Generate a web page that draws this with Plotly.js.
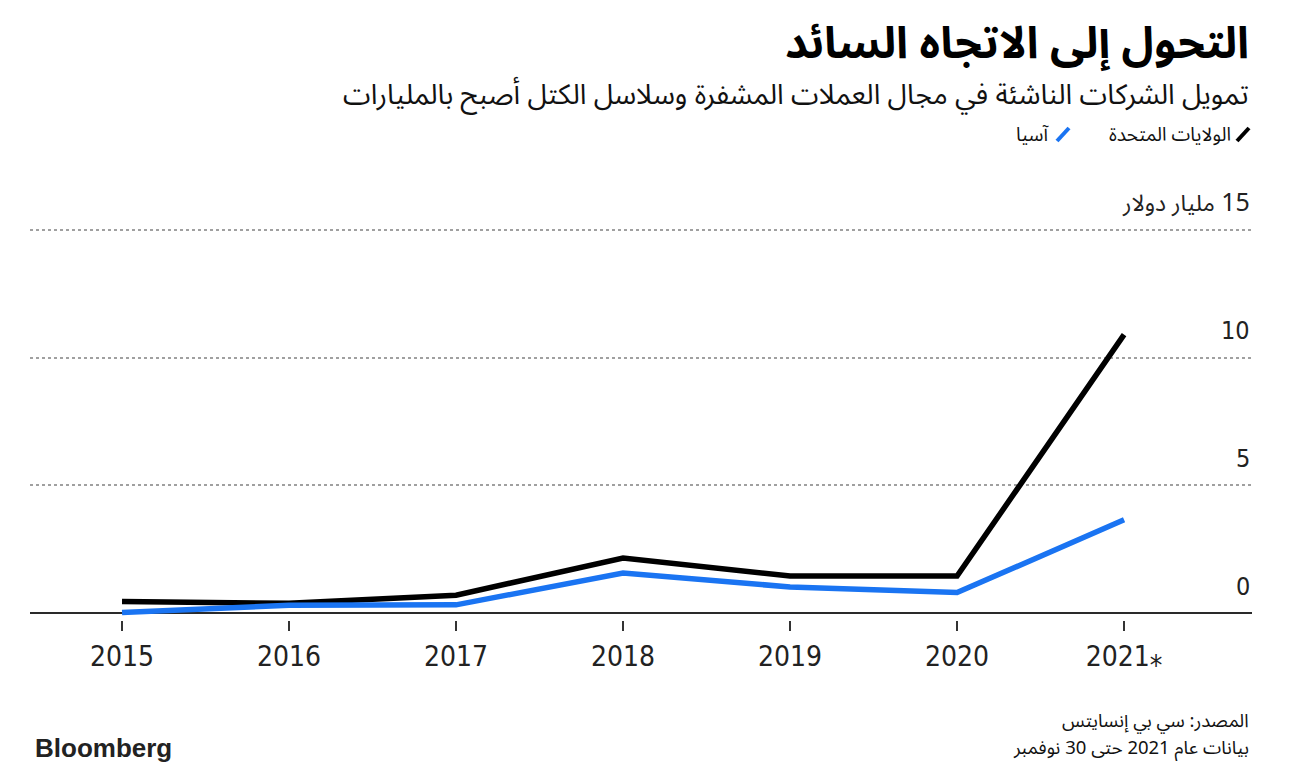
<!DOCTYPE html>
<html>
<head>
<meta charset="utf-8">
<script src="https://cdn.plot.ly/plotly-3.0.1.min.js"></script>
<style>
  html, body { margin: 0; padding: 0; background: #fff; }
  #chart { width: 1302px; height: 774px; }
</style>
</head>
<body>
<div id="chart"></div>
<script>
// ---- data ----
const years = [2015, 2016, 2017, 2018, 2019, 2020, 2021];
const yearLabels = ["2015", "2016", "2017", "2018", "2019", "2020", "2021⁎"];
const usValues = [0.45, 0.38, 0.70, 2.15, 1.45, 1.45, 10.9];
const asiaValues = [0.02, 0.30, 0.32, 1.57, 1.02, 0.80, 3.65];
const yTickValues = [0, 5, 10, 15];
const yTickLabels = ["0", "5", "10", "\u200F15 <span style=\"font-size:23px\">مليار دولار</span>"];
const seriesNames = ["الولايات المتحدة", "آسيا"];

const titleText = "التحول إلى الاتجاه السائد";
const subtitleText = "تمويل الشركات الناشئة في مجال العملات المشفرة وسلاسل الكتل أصبح بالمليارات";
const sourceText = "المصدر: سي بي إنسايتس";
const noteText = "\u202Bبيانات عام 2021 حتى 30 نوفمبر\u202C";

// ---- layout geometry ----
const W = 1302, H = 774;
const mL = 30, mR = 50, mT = 225, mB = 154;
const plotW = W - mL - mR, plotH = H - mT - mB;
const px = x => (x - mL) / plotW;
const py = y => (H - mB - y) / plotH;

const arFont = "Noto Sans Arabic, DejaVu Sans, sans-serif";
const numFont = "DejaVu Sans Condensed, DejaVu Sans, sans-serif";

const traces = [
  { x: years, y: usValues, name: seriesNames[0], type: "scatter", mode: "lines",
    line: { color: "#000000", width: 5.5, shape: "linear" }, hoverinfo: "skip" },
  { x: years, y: asiaValues, name: seriesNames[1], type: "scatter", mode: "lines",
    line: { color: "#1a74f2", width: 5.5, shape: "linear" }, hoverinfo: "skip" }
];

const annotations = [];
// y tick labels (above gridlines, right aligned)
yTickValues.forEach((v, i) => {
  annotations.push({
    xref: "paper", yref: "y", x: 1, y: v, xanchor: "right", yanchor: "middle",
    yshift: 27, showarrow: false, text: yTickLabels[i],
    font: { family: i === 3 ? arFont : numFont, size: 25, color: "#222" }
  });
});
// title, subtitle, legend texts, footer
annotations.push(
  { xref: "paper", yref: "paper", x: px(1251), y: py(44), xanchor: "right", yanchor: "middle",
    height: 60, valign: "middle",
    showarrow: false, text: "<b>" + titleText + "</b>", font: { family: arFont, size: 44, color: "#000" } },
  { xref: "paper", yref: "paper", x: px(1251), y: py(95), xanchor: "right", yanchor: "middle",
    height: 40, valign: "middle",
    showarrow: false, text: subtitleText, font: { family: arFont, size: 28, color: "#111" } },
  { xref: "paper", yref: "paper", x: px(1233), y: py(135), xanchor: "right", yanchor: "middle",
    height: 26, valign: "middle",
    showarrow: false, text: seriesNames[0], font: { family: arFont, size: 19, color: "#111" } },
  { xref: "paper", yref: "paper", x: px(1051), y: py(135), xanchor: "right", yanchor: "middle",
    height: 26, valign: "middle",
    showarrow: false, text: seriesNames[1], font: { family: arFont, size: 19, color: "#111" } },
  { xref: "paper", yref: "paper", x: px(1251), y: py(721), xanchor: "right", yanchor: "middle",
    height: 25, valign: "middle",
    showarrow: false, text: sourceText, font: { family: arFont, size: 18.5, color: "#111" } },
  { xref: "paper", yref: "paper", x: px(1251), y: py(748), xanchor: "right", yanchor: "middle",
    height: 25, valign: "middle",
    showarrow: false, text: noteText, font: { family: arFont, size: 18.5, color: "#111" } },
  { xref: "paper", yref: "paper", x: px(33), y: py(748), xanchor: "left", yanchor: "middle",
    showarrow: false, text: "<b>Bloomberg</b>", font: { family: "Liberation Sans, Arial, sans-serif", size: 26, color: "#222" } }
);

const shapes = [
  { type: "line", xref: "paper", yref: "paper", x0: px(1237), y0: py(141), x1: px(1249), y1: py(128),
    line: { color: "#000", width: 4 } },
  { type: "line", xref: "paper", yref: "paper", x0: px(1057), y0: py(141), x1: px(1069), y1: py(128),
    line: { color: "#1a74f2", width: 4 } }
];

const layout = {
  width: W, height: H,
  margin: { l: mL, r: mR, t: mT, b: mB, pad: 0 },
  paper_bgcolor: "#ffffff", plot_bgcolor: "#ffffff",
  showlegend: false,
  xaxis: {
    range: [2014.449, 2021.766],
    tickmode: "array", tickvals: years, ticktext: yearLabels,
    ticks: "outside", ticklen: 10, tickwidth: 2, tickcolor: "#333",
    ticklabelstandoff: 1,
    showgrid: false, zeroline: false, showline: false,
    tickfont: { family: numFont, size: 28, color: "#222" },
    fixedrange: true
  },
  yaxis: {
    range: [-0.273, 15.195],
    tickmode: "array", tickvals: yTickValues,
    showticklabels: false, ticks: "",
    showgrid: true, gridcolor: "#a0a0a0", gridwidth: 2, griddash: "3px,3px",
    zeroline: true, zerolinecolor: "#2a2a2a", zerolinewidth: 2,
    showline: false, fixedrange: true
  },
  annotations: annotations,
  shapes: shapes
};

Plotly.newPlot("chart", traces, layout, { displayModeBar: false, staticPlot: true });
</script>
</body>
</html>
